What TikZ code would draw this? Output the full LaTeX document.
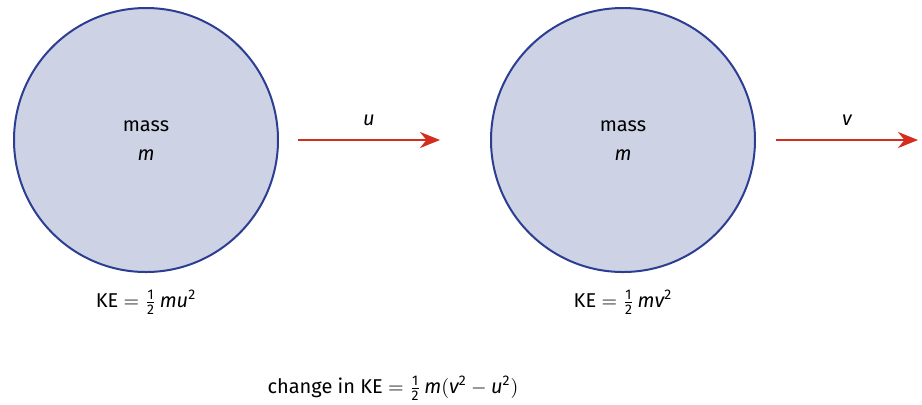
\documentclass[tikz,border=0pt]{standalone}
\usepackage{fontspec}
\setmainfont{Fira Sans}
\usetikzlibrary{arrows.meta}
\definecolor{ballfill}{RGB}{206,210,229}
\definecolor{balledge}{RGB}{44,62,146}
\definecolor{arrowred}{RGB}{210,45,30}
\newcommand{\half}{\frac{\mathrm{1}}{\mathrm{2}}}
\tikzset{ball/.style={circle,draw=balledge,fill=ballfill,line width=1pt,minimum size=132pt,inner sep=0pt},
  velo/.style={-{Stealth[length=10pt,width=8pt]},draw=arrowred,line width=1.4pt}}
\begin{document}
\begin{tikzpicture}[x=0.5pt,y=-0.5pt,>=Stealth,font=\fontsize{10}{12}\selectfont]
\useasboundingbox (0,0) rectangle (922,404);
\node[ball] (b1) at (146,140) {};
\node[ball] (b2) at (623,140) {};
\node (m1) at (146,126) {mass};
\node (v1) at (146,155) {$\mathit{m}$};
\node (m2) at (623,126) {mass};
\node (v2) at (623,155) {$\mathit{m}$};
\coordinate (p1) at (298,140);
\coordinate (q1) at (440,140);
\coordinate (p2) at (776,140);
\coordinate (q2) at (918,140);
\draw[velo] (p1)--node[above=3pt]{$\mathit{u}$}(q1);
\draw[velo] (p2)--node[above=3pt]{$\mathit{v}$}(q2);
\node (k1) at (146,302) {KE $=\half\,\mathit{mu}^{\mathrm{2}}$};
\node (k2) at (623,302) {KE $=\half\,\mathit{mv}^{\mathrm{2}}$};
\node (dk) at (393,388) {change in KE $=\half\,\mathit{m}(\mathit{v}^{\mathrm{2}}-\mathit{u}^{\mathrm{2}})$};
\end{tikzpicture}
\end{document}
